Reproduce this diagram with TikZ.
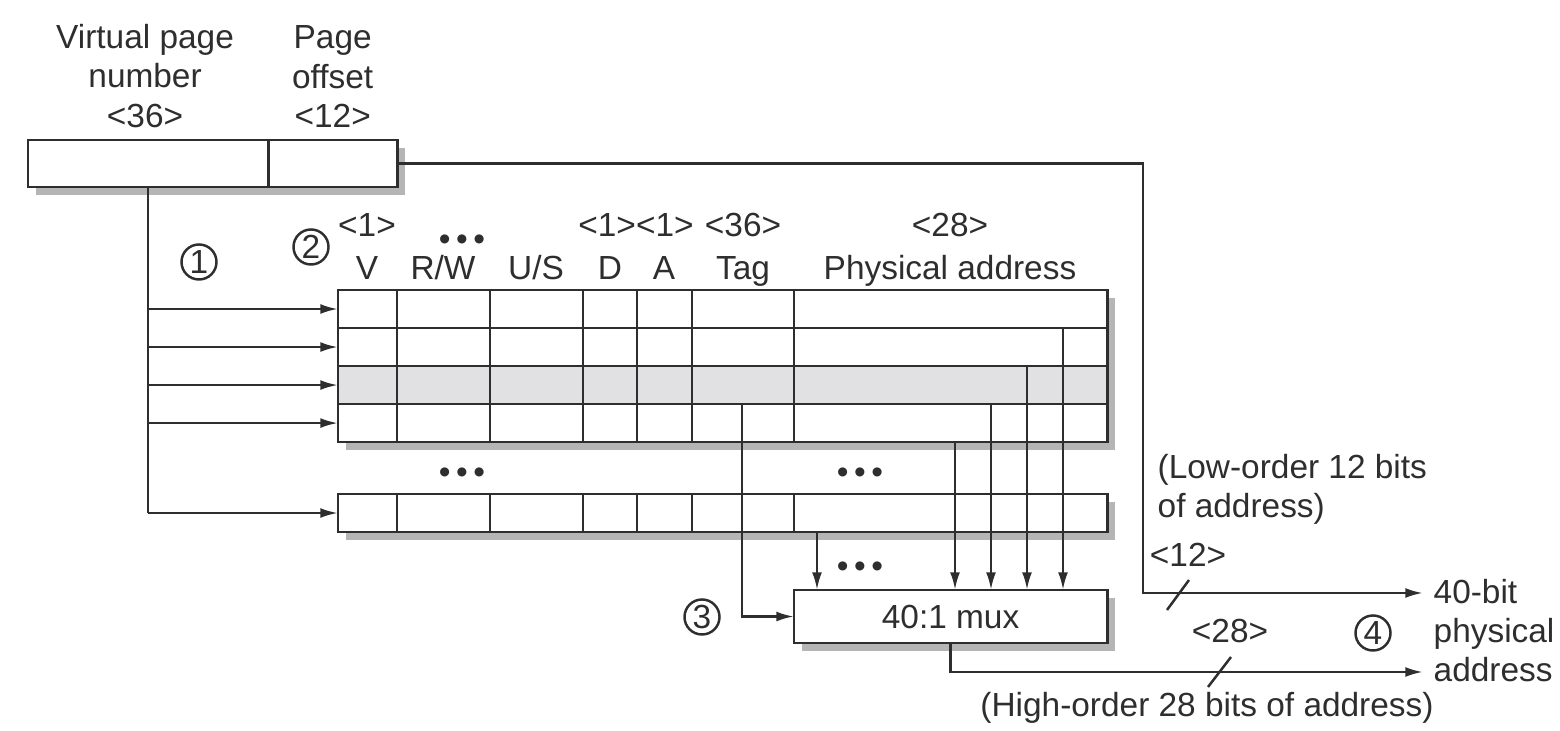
\documentclass[tikz,border=0pt]{standalone}
\usepackage{fontspec}
\setmainfont{Liberation Sans}
\usepackage{xcolor}
\usetikzlibrary{arrows.meta,positioning,shadows}
\definecolor{ink}{HTML}{2E2E2E}
\definecolor{shade}{HTML}{B5B5B5}
\definecolor{rowgray}{HTML}{E1E1E3}

\begin{document}
\begin{tikzpicture}[
  x=0.01cm, y=-0.01cm,
  every node/.style={font=\fontsize{9.5}{11.2}\selectfont, text=ink},
  box/.style={draw=ink, line width=0.8pt, fill=white, inner sep=0pt, outer sep=0pt, minimum height=0.47cm,
    drop shadow={shadow xshift=0.08cm, shadow yshift=-0.08cm, fill=shade, opacity=1}},
  entry/.style={box, minimum width=7.69cm, minimum height=0.38cm, anchor=north west},
  callout/.style={circle, draw=ink, line width=0.7pt, minimum size=0.35cm, inner sep=0pt},
  hdr/.style={anchor=base, inner sep=0pt},
  txt/.style={anchor=base west, align=left, inner sep=0pt},
  dots/.style={inner sep=0pt},
  wire/.style={draw=ink, line width=0.7pt},
  arr/.style={wire, -{Latex[length=5pt, width=2.8pt]}}
]
  \useasboundingbox (0,0) rectangle (1560,731);

  % virtual address
  \node[box, minimum width=2.40cm, anchor=north west] (vpn) at (28,140) {};
  \node[box, minimum width=1.29cm, right=0pt of vpn] (off) {};
  \node[above=0pt of vpn, align=center, xshift=-0.03cm] (vpnlbl) {Virtual page\\number\\<36>};
  \node[above=0pt of off, align=center] (offlbl) {Page\\offset\\<12>};

  % TLB entries
  \node[entry] (r1) at (338,290) {};
  \node[entry, below=0pt of r1] (r2) {};
  \node[entry, below=0pt of r2, fill=rowgray] (r3) {};
  \node[entry, below=0pt of r3] (r4) {};
  \node[entry] (rl) at (338,494) {};
  \foreach \cx in {397,490,583,637,692,794} {
    \draw[wire] (\cx,0 |- r1.north) -- (\cx,0 |- r4.south);
    \draw[wire] (\cx,0 |- rl.north) -- (\cx,0 |- rl.south);
  }

  % field names and widths
  \node[hdr] (sv) at (367,237) {<1>};
  \node[hdr] (sda) at (636,237) {<1><1>};
  \node[hdr] (stag) at (743,237) {<36>};
  \node[hdr] (spa) at (950,237) {<28>};
  \node[hdr] (hv) at (367,280) {V};
  \node[hdr] (hrw) at (443,280) {R/W};
  \node[hdr] (hus) at (536,280) {U/S};
  \node[hdr] (hd) at (610,280) {D};
  \node[hdr] (ha) at (664,280) {A};
  \node[hdr] (htag) at (743,280) {Tag};
  \node[hdr] (hpa) at (950,280) {Physical address};
  \node[dots] (dhdr) at (462,243) {\textbullet\,\textbullet\,\textbullet};
  \node[dots] (dleft) at (462,476) {\textbullet\,\textbullet\,\textbullet};
  \node[dots] (dright) at (860,476) {\textbullet\,\textbullet\,\textbullet};
  \node[dots] (dmux) at (860,570) {\textbullet\,\textbullet\,\textbullet};

  % steps
  \node[callout] (c1) at (199,262) {1};
  \node[callout] (c2) at (311,247) {2};
  \node[callout] (c3) at (702,617) {3};
  \node[callout] (c4) at (1373,633) {4};

  \node[box, minimum width=3.13cm, minimum height=0.53cm, anchor=north west] (mux) at (794,590) {40:1 mux};

  % index into the TLB
  \draw[wire] (vpn.south) -- (vpn.south |- rl.west);
  \draw[arr] (vpn.south |- r1.west) -- (r1.west);
  \draw[arr] (vpn.south |- r2.west) -- (r2.west);
  \draw[arr] (vpn.south |- r3.west) -- (r3.west);
  \draw[arr] (vpn.south |- r4.west) -- (r4.west);
  \draw[arr] (vpn.south |- rl.west) -- (rl.west);

  % physical addresses into the mux
  \draw[arr] (1063,0 |- r2.north) -- (1063,0 |- mux.north);
  \draw[arr] (1027,0 |- r3.north) -- (1027,0 |- mux.north);
  \draw[arr] (991,0 |- r4.north) -- (991,0 |- mux.north);
  \draw[arr] (955,0 |- r4.south) -- (955,0 |- mux.north);
  \draw[arr] (817,0 |- rl.south) -- (817,0 |- mux.north);
  \draw[arr] (742,0 |- r4.north) |- (mux.west);

  % physical address out
  \coordinate (loend) at (1423,593);
  \coordinate (hiend) at (1423,672);
  \draw[arr] (off.east) -- (1143,0 |- off.east) |- (loend);
  \draw[arr] (mux.south) |- (hiend);
  \draw[wire] (1167,610) -- (1189,580);
  \draw[wire] (1208,687) -- (1231,657);

  \node[hdr] (w12) at (1188,567) {<12>};
  \node[hdr] (w28) at (1230,643) {<28>};
  \node[txt] (lolbl) at (1157,518) {(Low-order 12 bits\\of address)};
  \node[txt] (palbl) at (1433,682) {40-bit\\physical\\address};
  \node[hdr] (hilbl) at (1207,717) {(High-order 28 bits of address)};
\end{tikzpicture}
\end{document}
